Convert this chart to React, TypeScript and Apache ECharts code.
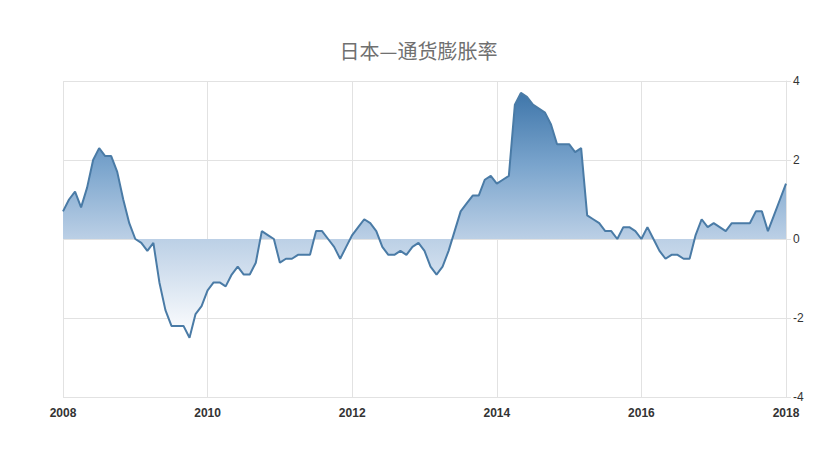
import React, { useEffect, useRef } from "react";
import * as echarts from "echarts";

const TITLE = "日本—通货膨胀率";
const START_YEAR = 2008;
const yTicks = [-4, -2, 0, 2, 4];

// Monthly year-on-year inflation (%)
const v2008 = [0.7, 1.0, 1.2, 0.8, 1.3, 2.0, 2.3, 2.1, 2.1, 1.7, 1.0, 0.4];
const v2009 = [0.0, -0.1, -0.3, -0.1, -1.1, -1.8, -2.2, -2.2, -2.2, -2.5, -1.9, -1.7];
const v2010 = [-1.3, -1.1, -1.1, -1.2, -0.9, -0.7, -0.9, -0.9, -0.6, 0.2, 0.1, 0.0];
const v2011 = [-0.6, -0.5, -0.5, -0.4, -0.4, -0.4, 0.2, 0.2, 0.0, -0.2, -0.5, -0.2];
const v2012 = [0.1, 0.3, 0.5, 0.4, 0.2, -0.2, -0.4, -0.4, -0.3, -0.4, -0.2, -0.1];
const v2013 = [-0.3, -0.7, -0.9, -0.7, -0.3, 0.2, 0.7, 0.9, 1.1, 1.1, 1.5, 1.6];
const v2014 = [1.4, 1.5, 1.6, 3.4, 3.7, 3.6, 3.4, 3.3, 3.2, 2.9, 2.4, 2.4];
const v2015 = [2.4, 2.2, 2.3, 0.6, 0.5, 0.4, 0.2, 0.2, 0.0, 0.3, 0.3, 0.2];
const v2016 = [0.0, 0.3, 0.0, -0.3, -0.5, -0.4, -0.4, -0.5, -0.5, 0.1, 0.5, 0.3];
const v2017 = [0.4, 0.3, 0.2, 0.4, 0.4, 0.4, 0.4, 0.7, 0.7, 0.2, 0.6, 1.0];
const v2018 = [1.4];

const yearly = [v2008, v2009, v2010, v2011, v2012, v2013, v2014, v2015, v2016, v2017, v2018];

export default function App() {
  const ref = useRef<HTMLDivElement>(null);
  useEffect(() => {
    document.body.style.margin = "0";
    if (!ref.current) return;
    const chart = echarts.init(ref.current, null, { renderer: "svg" });
    const categories: string[] = [];
    const values: number[] = [];
    yearly.forEach((arr, yi) => {
      arr.forEach((v, mi) => {
        categories.push(`${START_YEAR + yi}-${String(mi + 1).padStart(2, "0")}`);
        values.push(v);
      });
    });
    chart.setOption({
      animation: false,
      backgroundColor: "#ffffff",
      title: {
        text: TITLE,
        left: "center",
        top: 35,
        textStyle: {
          fontFamily: "Noto Sans CJK SC",
          fontSize: 20,
          fontWeight: "normal",
          color: "#707070",
        },
      },
      grid: { left: 63, right: 51, top: 81, bottom: 74 },
      xAxis: {
        type: "category",
        data: categories,
        boundaryGap: false,
        axisLine: { show: false },
        axisTick: { show: false },
        axisLabel: {
          interval: 23,
          margin: 10,
          color: "#333",
          fontSize: 12,
          fontWeight: "bold",
          fontFamily: "Arial, Liberation Sans, sans-serif",
          formatter: (val: string) => val.slice(0, 4),
        },
        splitLine: {
          show: true,
          interval: 23,
          lineStyle: { color: "#e2e2e2", width: 1 },
        },
      },
      yAxis: {
        type: "value",
        position: "right",
        min: yTicks[0],
        max: yTicks[yTicks.length - 1],
        interval: 2,
        axisLine: { show: true, lineStyle: { color: "#e2e2e2" } },
        axisTick: { show: true, length: 5, lineStyle: { color: "#e2e2e2" } },
        axisLabel: {
          margin: 7,
          color: "#333",
          fontSize: 12,
          fontFamily: "Arial, Liberation Sans, sans-serif",
        },
        splitLine: { show: true, lineStyle: { color: "#e2e2e2", width: 1 } },
      },
      series: [
        {
          type: "line",
          data: values,
          showSymbol: false,
          symbol: "none",
          lineStyle: { color: "#4a7ba6", width: 2 },
          areaStyle: {
            origin: "auto",
            opacity: 1,
            color: new echarts.graphic.LinearGradient(0, 0, 0, 1, [
              { offset: 0, color: "#3f76aa" },
              { offset: 0.3, color: "#7ba5cd" },
              { offset: 0.6, color: "#bcd0e6" },
              { offset: 1, color: "#ffffff" },
            ]),
          },
        },
      ],
    });
    return () => chart.dispose();
  }, []);
  return <div ref={ref} style={{ width: 837, height: 471 }} />;
}
